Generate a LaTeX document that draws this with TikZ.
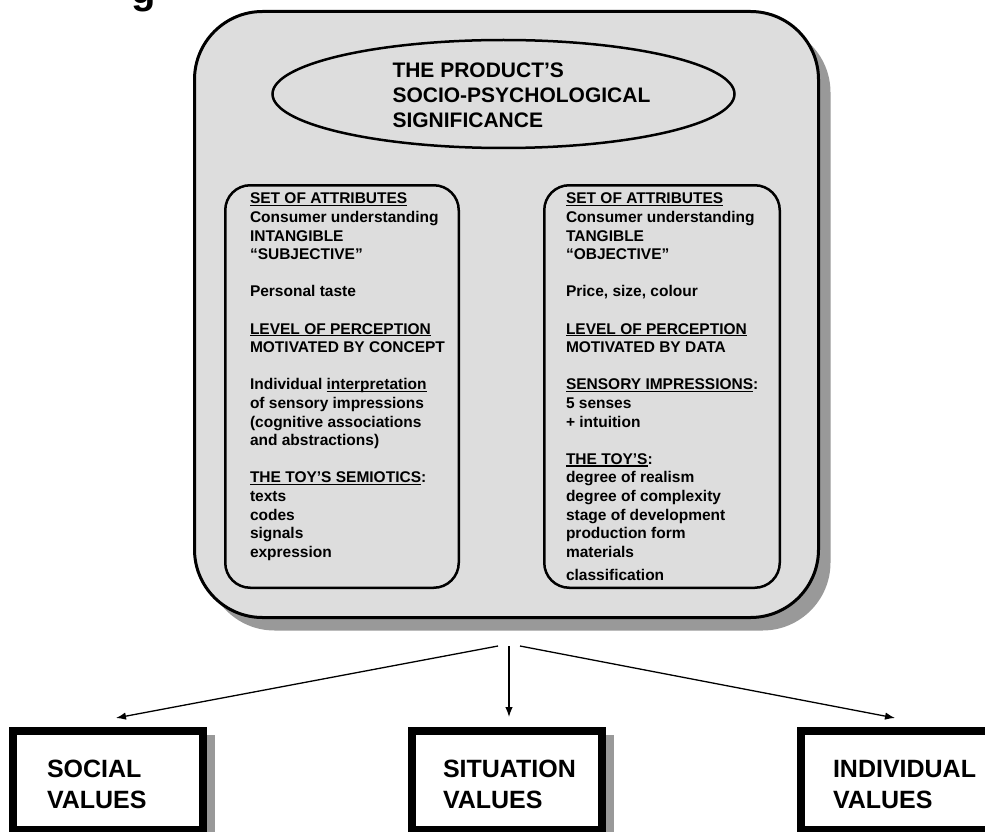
\documentclass[tikz,border=0pt]{standalone}
\usepackage{fontspec}
\setmainfont{Liberation Sans}
\usetikzlibrary{shapes.geometric,arrows.meta,shadows}
\definecolor{boxfill}{HTML}{DDDDDD}
\definecolor{shade}{HTML}{999999}
\newcommand\ulx[1]{\setbox0\hbox{#1}\rlap{\rule[-2.3pt]{\wd0}{1.1pt}}\box0}
\begin{document}
\begin{tikzpicture}[x=1pt,y=-1pt,
  every node/.style={inner sep=0pt, outer sep=0pt},
  bigbox/.style={draw=black, line width=3pt, fill=boxfill, rounded corners=68pt,
    drop shadow={shadow xshift=12pt, shadow yshift=-13pt, fill=shade, opacity=1}},
  attrbox/.style={draw=black, line width=2.5pt, rounded corners=25pt},
  oval/.style={ellipse, draw=black, line width=2.5pt},
  valbox/.style={draw=black, line width=8pt, fill=white, minimum width=190pt, minimum height=99pt,
    drop shadow={shadow xshift=12pt, shadow yshift=-4pt, fill=shade, opacity=1}},
  bodytext/.style={anchor=north west, align=left, font=\bfseries\fontsize{15.5}{18.6}\selectfont},
  titletext/.style={anchor=north west, align=left, font=\bfseries\fontsize{21}{25}\selectfont},
  valtext/.style={anchor=north west, align=left, font=\bfseries\fontsize{25}{31}\selectfont},
  arr/.style={line width=1.3pt, -{Latex[length=10pt,width=7.5pt]}}
]
\path[use as bounding box, fill=white] (0,0) rectangle (985,832);

\node[font=\bfseries\fontsize{40}{40}\selectfont, anchor=base] (gfrag) at (143.5,3.6) {g};

\node[bigbox, minimum width=624pt, minimum height=606pt] (main) at (506.5,314.5) {};
\node[oval, minimum width=462pt, minimum height=108pt] (oval) at (503.5,94) {};
\node[titletext] (title) at (392.5,63) {THE PRODUCT’S\\SOCIO-PSYCHOLOGICAL\\SIGNIFICANCE};

\node[attrbox, minimum width=233.5pt, minimum height=402.5pt] (leftbox) at (342,386.5) {};
\node[attrbox, minimum width=235.5pt, minimum height=402.5pt] (rightbox) at (662,386.5) {};

\node[bodytext] (lefttext) at (250,193) {\ulx{SET OF ATTRIBUTES}\\
Consumer understanding\\
INTANGIBLE\\
“SUBJECTIVE”\\[18.6pt]
Personal taste\\[18.6pt]
\ulx{LEVEL OF PERCEPTION}\\
MOTIVATED BY CONCEPT\\[18.6pt]
Individual \ulx{interpretation}\\
of sensory impressions\\
(cognitive associations\\
and abstractions)\\[18.6pt]
\ulx{THE TOY’S SEMIOTICS}:\\
texts\\
codes\\
signals\\
expression};

\node[bodytext] (righttext) at (566,193) {\ulx{SET OF ATTRIBUTES}\\
Consumer understanding\\
TANGIBLE\\
“OBJECTIVE”\\[18.6pt]
Price, size, colour\\[18.6pt]
\ulx{LEVEL OF PERCEPTION}\\
MOTIVATED BY DATA\\[18.6pt]
\ulx{SENSORY IMPRESSIONS}:\\
5 senses\\
+ intuition\\[18.6pt]
\ulx{THE TOY’S}:\\
degree of realism\\
degree of complexity\\
stage of development\\
production form\\
materials\\[4.5pt]
classification};

\coordinate (sL) at (498,646);
\coordinate (sM) at (509,646);
\coordinate (sR) at (520,646);
\coordinate (tL) at (116,718);
\coordinate (tM) at (509,717);
\coordinate (tR) at (895,718);
\draw[arr] (sL) -- (tL);
\draw[arr] (sM) -- (tM);
\draw[arr] (sR) -- (tR);

\node[valbox] (social) at (108,780.5) {};
\node[valbox] (situation) at (506.5,780.5) {};
\node[valbox] (individual) at (896,780.5) {};
\node[valtext] (socialtext) at (47,760) {SOCIAL\\VALUES};
\node[valtext] (situationtext) at (443,760) {SITUATION\\VALUES};
\node[valtext] (individualtext) at (833,760) {INDIVIDUAL\\VALUES};
\end{tikzpicture}
\end{document}
